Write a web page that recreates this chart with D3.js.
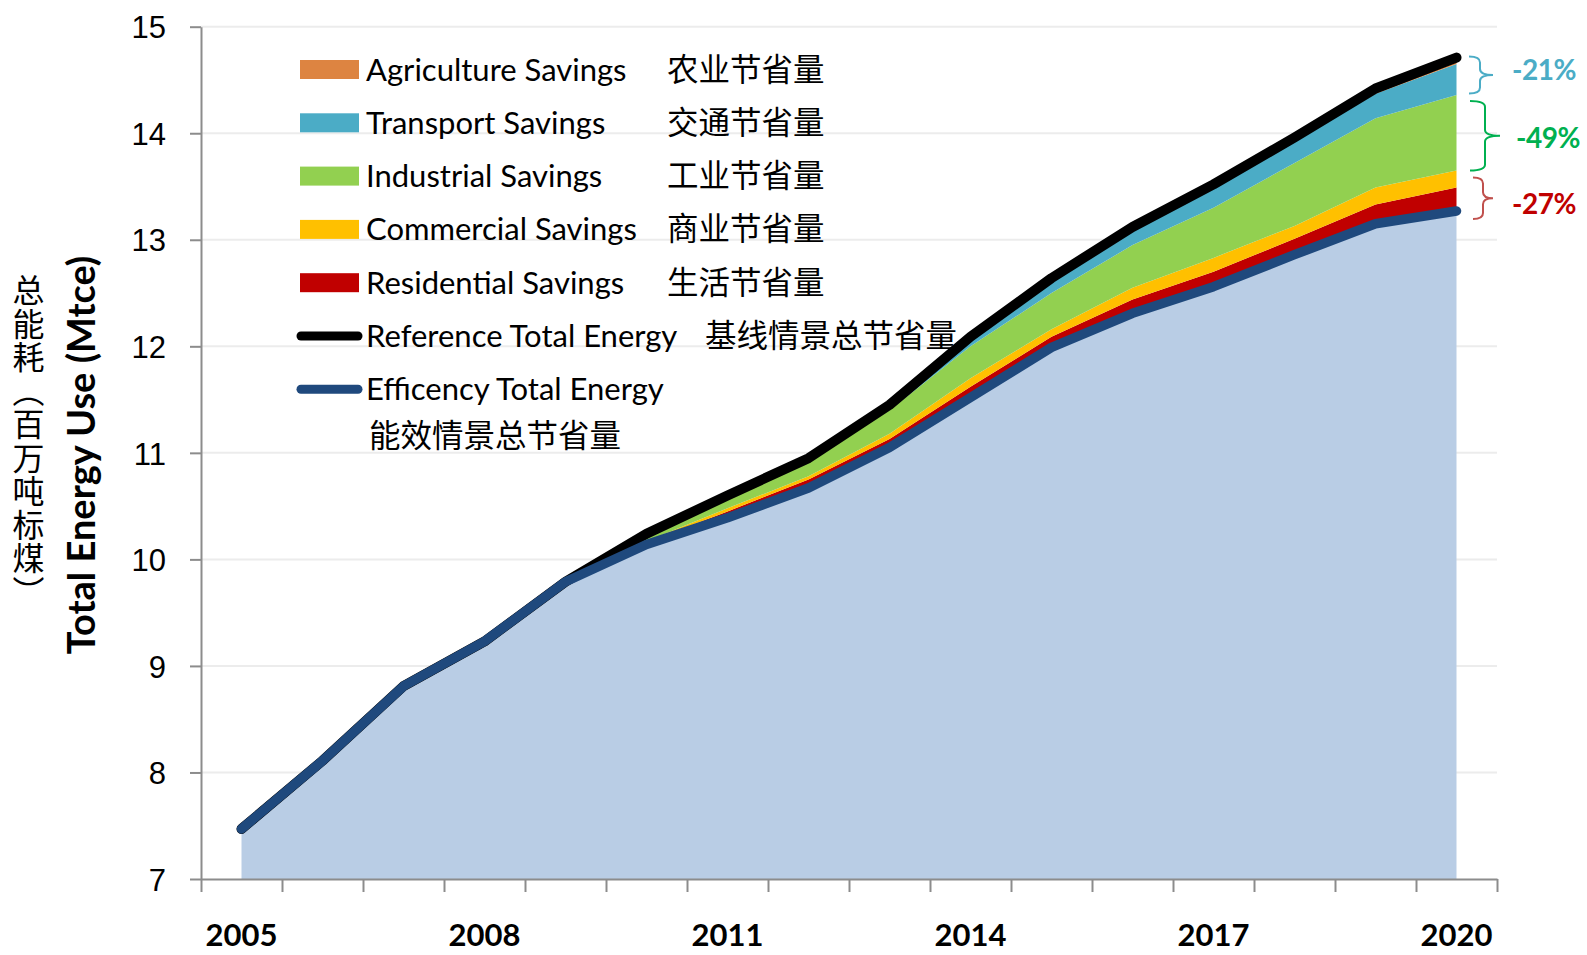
<!DOCTYPE html>
<html>
<head>
<meta charset="utf-8">
<script src="https://cdn.jsdelivr.net/npm/d3@7"></script>
<style>
  body { margin: 0; background: #fff; }
  svg { display: block; font-family: Lato, "Open Sans", sans-serif; }
  .cjk { font-family: "Noto Sans CJK SC", sans-serif; font-weight: 400; }
</style>
</head>
<body>
<div id="chart"></div>
<script>
// chart values
var years = [2005, 2006, 2007, 2008, 2009, 2010, 2011, 2012, 2013, 2014, 2015, 2016, 2017, 2018, 2019, 2020];
var yearLabels = [2005, 2008, 2011, 2014, 2017, 2020];
var yTicks = [7, 8, 9, 10, 11, 12, 13, 14, 15];

var efficiency  = [7.47, 8.11, 8.81, 9.23, 9.79, 10.14, 10.39, 10.67, 11.05, 11.52, 11.99, 12.31, 12.56, 12.86, 13.15, 13.27];
var residential = [0, 0, 0, 0, 0, 0.02, 0.06, 0.08, 0.08, 0.10, 0.10, 0.13, 0.14, 0.15, 0.18, 0.22];
var commercial  = [0, 0, 0, 0, 0, 0.01, 0.03, 0.03, 0.05, 0.08, 0.07, 0.11, 0.13, 0.12, 0.16, 0.16];
var industrial  = [0, 0, 0, 0, 0, 0.06, 0.10, 0.15, 0.22, 0.30, 0.34, 0.40, 0.47, 0.59, 0.65, 0.71];
var transport   = [0, 0, 0, 0, 0, 0.01, 0.02, 0.02, 0.04, 0.07, 0.12, 0.15, 0.20, 0.21, 0.23, 0.29];
var agriculture = [0, 0, 0, 0, 0, 0, 0, 0, 0.01, 0.02, 0.02, 0.02, 0.02, 0.03, 0.05, 0.06];
var reference   = [7.47, 8.11, 8.81, 9.23, 9.79, 10.24, 10.60, 10.95, 11.45, 12.09, 12.64, 13.12, 13.52, 13.96, 14.42, 14.71];

var layerKeys   = ['eff', 'res', 'com', 'ind', 'tra', 'agr'];
var layerColors = ['#b9cde5', '#c00000', '#ffc000', '#92d050', '#4bacc6', '#dd8441'];

var legendNames = ['Agriculture Savings', 'Transport Savings', 'Industrial Savings', 'Commercial Savings',
                   'Residential Savings', 'Reference Total Energy', 'Efficency Total Energy'];
var legendZh    = ['农业节省量', '交通节省量', '工业节省量', '商业节省量', '生活节省量', '基线情景总节省量', '能效情景总节省量'];
var legendColors = ['#dd8441', '#4bacc6', '#92d050', '#ffc000', '#c00000', '#000000', '#1f497d'];

var shareLabels = ['-21%', '-49%', '-27%'];
var shareColors = ['#4bacc6', '#00b050', '#c00000'];
var braceColors = ['#4bacc6', '#00b050', '#c0504d'];

var width = 1587, height = 955;

var svg = d3.select('#chart').append('svg')
    .attr('width', width)
    .attr('height', height);

var x = d3.scaleBand().domain(years).range([201, 1497]).padding(0);
var xb = d3.scaleLinear().domain([2004.5, 2020.5]).range([201, 1497]);
var y = d3.scaleLinear().domain([7, 15]).range([879, 26.7]).clamp(true);
function cx(yr) { return x(yr) + x.bandwidth() / 2; }

var rows = years.map(function(yr, i) {
  return { year: yr, eff: efficiency[i], res: residential[i], com: commercial[i],
           ind: industrial[i], tra: transport[i], agr: agriculture[i] };
});
var stacked = d3.stack().keys(layerKeys)(rows);

// gridlines
svg.append('g')
  .selectAll('line')
  .data(yTicks.filter(function(t) { return t > 7; }))
  .enter().append('line')
    .attr('x1', 201).attr('x2', 1497)
    .attr('y1', function(d) { return y(d); })
    .attr('y2', function(d) { return y(d); })
    .attr('stroke', '#ececec')
    .attr('stroke-width', 2);

// stacked areas
var area = d3.area()
  .x(function(d) { return cx(d.data.year); })
  .y0(function(d) { return y(d[0]); })
  .y1(function(d) { return y(d[1]); });

svg.append('g')
  .selectAll('path')
  .data(stacked)
  .enter().append('path')
    .attr('d', area)
    .attr('fill', function(d, i) { return layerColors[i]; });

// lines
var line = d3.line()
  .x(function(d, i) { return cx(years[i]); })
  .y(function(d) { return y(d); });

svg.append('path')
  .attr('d', line(reference))
  .attr('fill', 'none')
  .attr('stroke', '#000')
  .attr('stroke-width', 10)
  .attr('stroke-linejoin', 'round')
  .attr('stroke-linecap', 'round');

svg.append('path')
  .attr('d', line(efficiency))
  .attr('fill', 'none')
  .attr('stroke', '#1f497d')
  .attr('stroke-width', 9.5)
  .attr('stroke-linejoin', 'round')
  .attr('stroke-linecap', 'round');

// axes
var yAxis = svg.append('g')
  .attr('transform', 'translate(201,0)')
  .call(d3.axisLeft(y).tickValues(yTicks).tickSize(11).tickSizeOuter(0).tickPadding(24));
yAxis.selectAll('text').style('font-size', '31px').attr('fill', '#000').attr('dy', '0.36em');

var xAxis = svg.append('g')
  .attr('transform', 'translate(0,879)')
  .call(d3.axisBottom(xb).tickValues(d3.range(2004.5, 2021, 1)).tickSize(13).tickSizeOuter(0).tickFormat(''));

svg.selectAll('.domain, .tick line')
  .attr('stroke', '#8c8c8c')
  .attr('stroke-width', 2);

svg.append('g')
  .selectAll('text')
  .data(yearLabels)
  .enter().append('text')
    .attr('x', function(d) { return cx(d); })
    .attr('y', 946)
    .attr('text-anchor', 'middle')
    .style('font-size', '31px')
    .style('font-weight', 'bold')
    .text(function(d) { return d; });

// axis titles
svg.append('text')
  .attr('transform', 'translate(95,455) rotate(-90)')
  .attr('text-anchor', 'middle')
  .style('font-size', '38px')
  .style('font-weight', 'bold')
  .text('Total Energy Use (Mtce)');

svg.append('text')
  .attr('class', 'cjk')
  .attr('x', 28.5)
  .attr('y', 274)
  .style('writing-mode', 'vertical-rl')
  .style('font-size', '32px')
  .style('letter-spacing', '1.5px')
  .attr('fill', '#000')
  .text('总能耗（百万吨标煤）');

// legend
var legend = svg.append('g');
var rowY = function(i) { return 69.5 + 53.3 * i; };

legendNames.forEach(function(name, i) {
  var cy = rowY(i);
  if (i < 5) {
    legend.append('rect')
      .attr('x', 300).attr('y', cy - 9.5)
      .attr('width', 59).attr('height', 19)
      .attr('fill', legendColors[i]);
  } else {
    legend.append('line')
      .attr('x1', 301).attr('x2', 358)
      .attr('y1', cy).attr('y2', cy)
      .attr('stroke', legendColors[i])
      .attr('stroke-width', 9)
      .attr('stroke-linecap', 'round');
  }
  legend.append('text')
    .attr('x', 366)
    .attr('y', cy + 11)
    .style('font-size', '31px')
    .text(name);

  var zx = 667, zy = cy;
  if (i === 5) zx = 705;
  if (i === 6) { zx = 369; zy = cy + 47; }
  legend.append('text')
    .attr('class', 'cjk')
    .attr('x', zx)
    .attr('y', zy + 11)
    .style('font-size', '31.5px')
    .text(legendZh[i]);
});

// braces at 2020
var last = rows.length - 1;
var topRef = reference[last];
var topInd = stacked[3][last][1];
var topCom = stacked[2][last][1];
var effEnd = efficiency[last];

var braceSpans = [
  [y(topRef) - 1, y(topInd) - 1.5],
  [y(topInd) + 6, y(topCom)],
  [y(topCom) + 7, y(effEnd) + 8]
];
var braceX = [[1469, 1480, 1493], [1470, 1485, 1500], [1473, 1483, 1493]];
var labelX = [1512, 1516, 1512];
var labelDy = [5, 12, 16];

function bracePath(x0, xv, xt, y0, y1) {
  var m = (y0 + y1) / 2, r = 6;
  return 'M' + x0 + ',' + y0 +
    ' Q' + xv + ',' + y0 + ' ' + xv + ',' + (y0 + r) +
    ' L' + xv + ',' + (m - r) +
    ' Q' + xv + ',' + m + ' ' + xt + ',' + m +
    ' Q' + xv + ',' + m + ' ' + xv + ',' + (m + r) +
    ' L' + xv + ',' + (y1 - r) +
    ' Q' + xv + ',' + y1 + ' ' + x0 + ',' + y1;
}

braceSpans.forEach(function(s, i) {
  svg.append('path')
    .attr('d', bracePath(braceX[i][0], braceX[i][1], braceX[i][2], s[0], s[1]))
    .attr('fill', 'none')
    .attr('stroke', braceColors[i])
    .attr('stroke-width', 2);
  svg.append('text')
    .attr('x', labelX[i])
    .attr('y', (s[0] + s[1]) / 2 + labelDy[i])
    .attr('fill', shareColors[i])
    .style('font-size', '28px')
    .style('font-weight', 'bold')
    .style('letter-spacing', '-0.5px')
    .text(shareLabels[i]);
});
</script>
</body>
</html>
